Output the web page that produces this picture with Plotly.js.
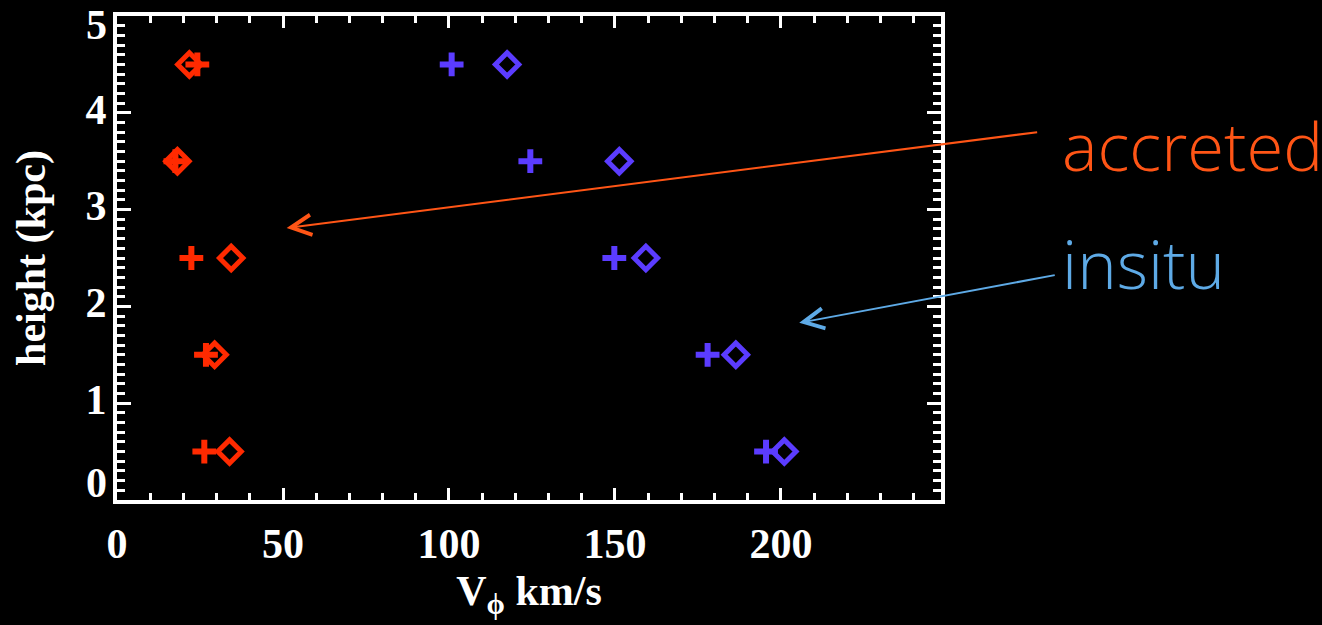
<!DOCTYPE html>
<html>
<head>
<meta charset="utf-8">
<script src="https://cdn.plot.ly/plotly-3.0.1.min.js"></script>
<style>
html,body{margin:0;padding:0;background:#000;}
#chart{width:1322px;height:625px;}
</style>
</head>
<body>
<div id="chart"></div>
<script>
// ---- data ----
const heights = [0.5, 1.5, 2.5, 3.5, 4.5];           // kpc
const accretedPlus    = [26.3, 26.8, 22.4, 17.6, 24.2]; // V_phi km/s
const accretedDiamond = [33.9, 29.4, 34.4, 18.2, 21.8];
const insituPlus      = [195.5, 177.9, 149.8, 124.5, 100.8];
const insituDiamond   = [201.0, 186.4, 159.3, 151.3, 117.5];
const xTicks = [0, 50, 100, 150, 200];
const yTicks = [0, 1, 2, 3, 4, 5];
const labelAccreted = 'accreted';
const labelInsitu = 'insitu';

const RED = '#ff2a00';
const BLUE = '#5b3cff';
const ORANGE = '#ff5516';
const LBLUE = '#5eaae6';

function plusTrace(x, color){
  return {x: x, y: heights, type:'scatter', mode:'markers', hoverinfo:'skip',
    marker:{symbol:'cross-thin', size:17, color:color, line:{color:color, width:6}}};
}
function diamondTrace(x, color){
  return {x: x, y: heights, type:'scatter', mode:'markers', hoverinfo:'skip',
    marker:{symbol:'diamond-open', size:18, color:color, line:{color:color, width:5}}};
}

const traces = [
  plusTrace(accretedPlus, RED), diamondTrace(accretedDiamond, RED),
  plusTrace(insituPlus, BLUE), diamondTrace(insituDiamond, BLUE)
];

const tickFont = {family:'Liberation Serif, Times New Roman, serif', size:42, color:'#fff', weight:'bold'};

// the end labels of the y axis are nudged inward (as in the original plot)
const yInner = yTicks.slice(1, -1);
const yEnds = [yTicks[0], yTicks[yTicks.length - 1]];
const yEndShift = [17, -9];

const layout = {
  width:1322, height:625,
  paper_bgcolor:'#000', plot_bgcolor:'#000',
  showlegend:false,
  margin:{l:117, r:381, t:16, b:125},
  xaxis:{
    range:[0, 248.2], tickvals:xTicks, ticktext:xTicks.map(String),
    showgrid:false, zeroline:false,
    showline:true, linecolor:'#fff', linewidth:4, mirror:'ticks',
    ticks:'inside', ticklen:12, tickwidth:3, tickcolor:'#fff',
    minor:{dtick:10, ticks:'inside', ticklen:7, tickwidth:3, tickcolor:'#fff', showgrid:false},
    tickfont:tickFont, ticklabelstandoff:4,
    title:{text:'V<sub>ϕ</sub> km/s', font:tickFont, standoff:10}
  },
  yaxis:{
    range:[0, 5], tickvals:yInner, ticktext:yInner.map(String),
    showgrid:false, zeroline:false,
    showline:true, linecolor:'#fff', linewidth:4, mirror:'ticks',
    ticks:'inside', ticklen:14, tickwidth:3, tickcolor:'#fff',
    minor:{dtick:0.1, ticks:'inside', ticklen:8, tickwidth:3, tickcolor:'#fff', showgrid:false},
    tickfont:tickFont, ticklabelstandoff:-2, ticklabelshift:-4,
    title:{text:'height (kpc)', font:tickFont, standoff:28}
  },
  annotations:[
    ...yEnds.map((v, i) => ({x:0, y:v, xref:'paper', yref:'y', xanchor:'right', yanchor:'middle',
      xshift:-9, yshift:yEndShift[i], text:String(v), showarrow:false, borderpad:0, font:tickFont})),
    {x:51.1, y:2.81, xref:'x', yref:'y', text:'', showarrow:true,
     ax:752, ay:-96, arrowhead:5, arrowsize:2, arrowwidth:2, arrowcolor:ORANGE, standoff:0},
    {x:205.5, y:1.83, xref:'x', yref:'y', text:'', showarrow:true,
     ax:257, ay:-48, arrowhead:5, arrowsize:2, arrowwidth:2, arrowcolor:LBLUE, standoff:0},
    {x:1.144, y:0.733, xref:'paper', yref:'paper', xanchor:'left', yanchor:'middle',
     text:labelAccreted, showarrow:false,
     font:{family:'Open Sans, Noto Sans, sans-serif', size:67, color:ORANGE, weight:300}},
    {x:1.144, y:0.49, xref:'paper', yref:'paper', xanchor:'left', yanchor:'middle',
     text:labelInsitu, showarrow:false,
     font:{family:'Open Sans, Noto Sans, sans-serif', size:67, color:LBLUE, weight:300}}
  ]
};

Plotly.newPlot('chart', traces, layout, {staticPlot:true, displayModeBar:false});
</script>
</body>
</html>
